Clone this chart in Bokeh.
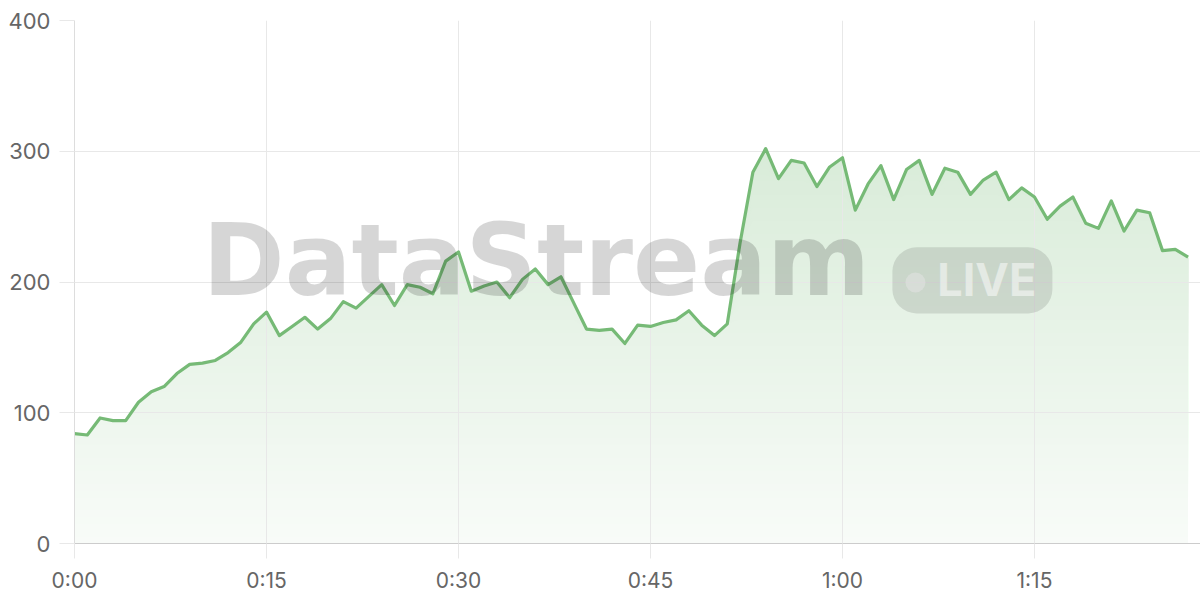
import numpy as np
from bokeh.plotting import figure
from bokeh.models import Range1d, FixedTicker, Label, BoxAnnotation
from bokeh.embed import file_html
from bokeh.resources import INLINE

# ---- data ----
minutes = list(range(88))
values = [84, 83, 96, 94, 94, 108, 116, 120, 130, 137,
          138, 140, 146, 154, 168, 177, 159, 166, 173, 164,
          172, 185, 180, 189, 198, 182, 198, 196, 191, 216,
          223, 193, 197, 200, 188, 202, 210, 198, 204, 184,
          164, 163, 164, 153, 167, 166, 169, 171, 178, 167,
          159, 168, 230, 284, 302, 279, 293, 291, 273, 288,
          295, 255, 275, 289, 263, 286, 293, 267, 287, 284,
          267, 278, 284, 263, 272, 265, 248, 258, 265, 245,
          241, 262, 239, 255, 253, 224, 225, 219]
x_ticks = [0, 15, 30, 45, 60, 75]
x_tick_labels = ["0:00", "0:15", "0:30", "0:45", "1:00", "1:15"]
y_ticks = [0, 100, 200, 300, 400]
watermark_text = "DataStream"
badge_text = "LIVE"

GREEN_RGB = (118, 186, 118)
GREEN = "#76ba76"
FONT = "Inter"
X_END = 87.97

p = figure(width=1200, height=600, output_backend="svg", toolbar_location=None,
           x_range=Range1d(0, X_END), y_range=Range1d(0, 400),
           min_border_left=74, min_border_right=0, min_border_top=20,
           min_border_bottom=57)
p.outline_line_color = None
p.background_fill_color = "white"
p.border_fill_color = "white"

# vertical gradient fill: opaque layers, each from a rising level up to the curve
A_TOP, A_BOT = 0.28, 0.05
vals = np.array(values, dtype=float)
H = vals.max()
N = 60
def blend(a):
    return "#%02x%02x%02x" % tuple(int(round(255 - a * (255 - c))) for c in GREEN_RGB)
for k in range(N):
    lvl = H * k / N
    a = A_BOT + (A_TOP - A_BOT) * (k + 0.5) / N
    p.varea(x=minutes, y1=np.minimum(vals, lvl), y2=vals, fill_color=blend(a),
            fill_alpha=1.0, level="underlay")

p.line(x=minutes, y=values, line_color=GREEN, line_width=3.2, line_join="round",
       level="guide")

# grid
p.xgrid.ticker = FixedTicker(ticks=x_ticks)
p.ygrid.ticker = FixedTicker(ticks=y_ticks)
for g in (p.xgrid, p.ygrid):
    g.grid_line_color = "#e8e8e8"
    g.grid_line_width = 1
    g.level = "glyph"

# axes
p.xaxis.ticker = FixedTicker(ticks=x_ticks)
p.xaxis.major_label_overrides = {t: s for t, s in zip(x_ticks, x_tick_labels)}
p.yaxis.ticker = FixedTicker(ticks=y_ticks)
for ax in (p.xaxis, p.yaxis):
    ax.major_label_text_font = FONT
    ax.major_label_text_color = "#666666"
    ax.minor_tick_line_color = None
    ax.major_tick_in = 0
    ax.major_tick_line_color = "#e8e8e8"
p.xaxis.major_label_text_font_size = "21px"
p.yaxis.major_label_text_font_size = "22px"
p.xaxis.axis_line_color = "#cccccc"
p.xaxis.major_tick_out = 15
p.xaxis.major_label_standoff = 9
p.yaxis.axis_line_color = "#dddddd"
p.yaxis.major_tick_out = 15
p.yaxis.major_label_standoff = 9

# watermark
wm = Label(x=10.0, y=216.5, text=watermark_text, text_font="DejaVu Sans",
           text_font_style="bold", text_font_size="99px", text_color="black",
           text_alpha=0.16, text_baseline="alphabetic", text_align="left")
p.add_layout(wm)
pill = BoxAnnotation(left=63.9, right=76.4, bottom=176, top=226.5,
                     fill_color="black", fill_alpha=0.11, line_color=None,
                     border_radius=24)
p.add_layout(pill)
p.scatter(x=[65.7], y=[199.6], size=20, marker="circle", fill_color="white",
          fill_alpha=0.55, line_color=None, level="annotation")
live = Label(x=67.4, y=201.8, text=badge_text, text_font=FONT, text_font_style="bold",
             text_font_size="45px", text_color="white", text_alpha=0.5,
             text_baseline="alphabetic", text_align="left")
p.add_layout(live)

open("out.html", "w").write(file_html(p, INLINE))
